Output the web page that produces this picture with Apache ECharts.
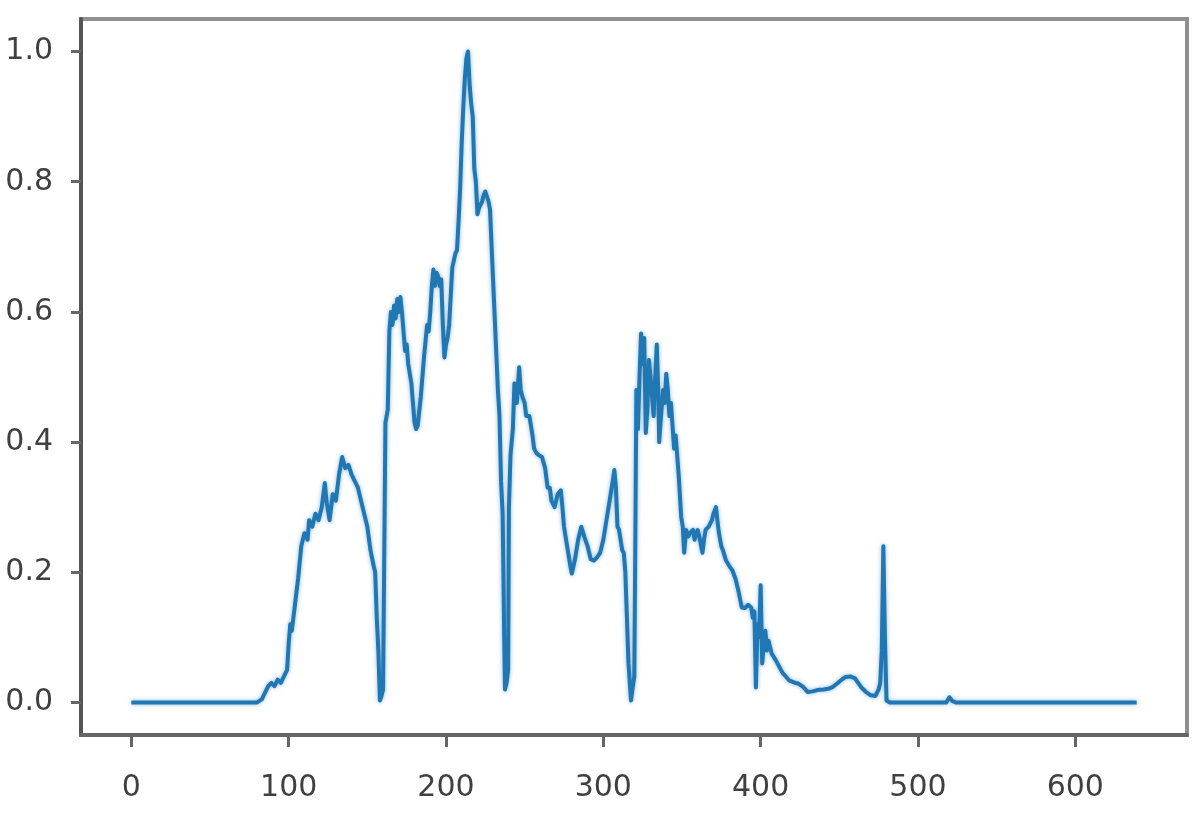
<!DOCTYPE html>
<html>
<head>
<meta charset="utf-8">
<script src="https://cdn.jsdelivr.net/npm/echarts@6/dist/echarts.min.js"></script>
<style>
html,body{margin:0;padding:0;background:#fff;}
#chart{width:1196px;height:822px;}
</style>
</head>
<body>
<div id="chart"></div>
<script>
// Tick labels
var xTicks = [0, 100, 200, 300, 400, 500, 600];
var yTicks = [0.0, 0.2, 0.4, 0.6, 0.8, 1.0];

// Series: sample index (x) and normalized value (y)
var xs = [
  0, 80, 83, 85, 87, 89, 91, 93, 95, 97, 99, 100, 101, 102, 104, 106, 108, 110, 112, 113,
  115, 117, 119, 121, 123, 124, 126, 128, 130, 132, 134, 136, 138, 140, 142, 144, 146, 148, 150, 152,
  154, 155, 156, 157, 158, 159, 160, 161, 161.5, 163, 164, 165, 166, 167, 168, 169, 170, 171, 172, 173,
  174, 175, 176, 178, 179, 180, 181, 182, 184, 186, 188, 189, 190, 191, 192, 193, 194, 195, 196, 197,
  198, 199, 200, 201, 202, 204, 206, 207, 208, 209, 210, 211, 212, 213, 214, 215, 216, 217, 218, 219,
  220, 221, 222, 223, 224, 225, 226, 227, 228, 229, 231, 233, 234, 235, 236, 237, 237.5, 238.5, 239.5, 240,
  241, 242.5, 243.5, 245, 246.5, 247.5, 248.5, 250, 251, 253, 255, 256, 257.5, 259, 261, 263, 264.6, 266, 267, 269,
  271, 273, 274, 275, 277, 279, 280, 282, 284, 286, 288, 290, 292, 294, 296, 298, 300, 302, 304, 306,
  307, 308, 309, 310, 312, 313, 314, 315, 316, 317.6, 318.5, 319.7, 320.5, 321, 322, 323, 324, 325, 326, 327,
  328, 329, 330, 331, 332, 333, 334, 335, 335.5, 337, 338, 339, 340, 341, 342, 343, 345, 346, 348, 349.5,
  350.5, 351.4, 352.6, 354, 355, 357, 358, 359, 360, 361, 363, 364, 365, 367, 369, 370, 371.6, 372.5, 373.5, 375,
  376, 378, 380, 382, 384, 386, 388, 390, 392, 394, 395, 396, 397, 398, 399, 400, 401, 402, 403, 404,
  405, 407, 409.6, 412, 414, 416, 418, 420, 422, 424, 427, 430, 433, 436, 440, 443, 446, 449, 452, 454,
  457, 460, 462, 464, 467, 470, 473, 475, 476, 477, 478, 479, 480, 482, 518, 520, 522, 524, 639
];
var ys = [
  0, 0, 0.005, 0.015, 0.025, 0.03, 0.025, 0.035, 0.03, 0.04, 0.05, 0.09, 0.12, 0.11, 0.15, 0.19, 0.24, 0.26, 0.25, 0.28,
  0.27, 0.29, 0.28, 0.30, 0.337, 0.31, 0.28, 0.32, 0.31, 0.35, 0.377, 0.36, 0.365, 0.35, 0.34, 0.33, 0.31, 0.29, 0.27, 0.234,
  0.21, 0.20, 0.13, 0.08, 0.003, 0.01, 0.02, 0.023, 0.43, 0.45, 0.57, 0.60, 0.58, 0.61, 0.59, 0.62, 0.60, 0.623, 0.60, 0.57,
  0.54, 0.55, 0.52, 0.49, 0.46, 0.43, 0.42, 0.425, 0.47, 0.53, 0.58, 0.57, 0.60, 0.64, 0.665, 0.64, 0.66, 0.655, 0.64, 0.65,
  0.58, 0.53, 0.55, 0.56, 0.58, 0.668, 0.69, 0.695, 0.74, 0.79, 0.86, 0.915, 0.96, 0.99, 1.0, 0.95, 0.92, 0.90, 0.82, 0.80,
  0.75, 0.76, 0.765, 0.77, 0.78, 0.785, 0.787, 0.77, 0.757, 0.70, 0.59, 0.48, 0.44, 0.34, 0.29, 0.10, 0.02, 0.03, 0.05, 0.30,
  0.38, 0.42, 0.49, 0.46, 0.515, 0.48, 0.47, 0.46, 0.44, 0.44, 0.41, 0.39, 0.383, 0.38, 0.377, 0.36, 0.33, 0.33, 0.31, 0.30,
  0.32, 0.326, 0.30, 0.27, 0.24, 0.21, 0.198, 0.22, 0.25, 0.27, 0.254, 0.24, 0.22, 0.218, 0.223, 0.23, 0.25, 0.28, 0.31, 0.34,
  0.357, 0.33, 0.27, 0.265, 0.234, 0.23, 0.20, 0.13, 0.06, 0.003, 0.02, 0.04, 0.30, 0.48, 0.42, 0.50, 0.567, 0.52, 0.56, 0.414,
  0.45, 0.526, 0.50, 0.47, 0.44, 0.50, 0.55, 0.47, 0.40, 0.45, 0.48, 0.46, 0.505, 0.48, 0.44, 0.46, 0.39, 0.41, 0.346, 0.285,
  0.27, 0.23, 0.265, 0.255, 0.26, 0.265, 0.25, 0.26, 0.265, 0.255, 0.23, 0.25, 0.265, 0.27, 0.28, 0.29, 0.30, 0.28, 0.26, 0.24,
  0.234, 0.218, 0.21, 0.203, 0.19, 0.17, 0.146, 0.145, 0.15, 0.146, 0.13, 0.14, 0.023, 0.12, 0.10, 0.18, 0.06, 0.09, 0.11, 0.08,
  0.095, 0.075, 0.065, 0.054, 0.045, 0.04, 0.034, 0.032, 0.03, 0.029, 0.024, 0.016, 0.017, 0.019, 0.02, 0.021, 0.024, 0.03, 0.036, 0.039,
  0.04, 0.037, 0.03, 0.023, 0.016, 0.011, 0.01, 0.02, 0.03, 0.08, 0.24, 0.10, 0.003, 0, 0, 0.008, 0.002, 0, 0
];

var points = xs.map(function (x, i) { return [x, ys[i]]; });

var chart = echarts.init(document.getElementById('chart'), null, { renderer: 'canvas' });
var labelStyle = { fontFamily: 'DejaVu Sans', fontSize: 30, color: '#404040' };
chart.setOption({
  animation: false,
  backgroundColor: '#ffffff',
  grid: {
    left: 81, right: 9, top: 19, bottom: 87,
    show: true, borderColor: '#909090', borderWidth: 4, backgroundColor: 'transparent'
  },
  xAxis: {
    type: 'value',
    min: -32, max: 671,
    splitLine: { show: false },
    axisLine: { show: true, onZero: false, lineStyle: { color: '#666666', width: 4 } },
    axisTick: { show: true, length: 12, customValues: xTicks, lineStyle: { color: '#666666', width: 3 } },
    axisLabel: Object.assign({ margin: 38, customValues: xTicks, formatter: function (v) { return String(v); } }, labelStyle)
  },
  yAxis: {
    type: 'value',
    min: -0.05, max: 1.05,
    splitLine: { show: false },
    axisLine: { show: true, onZero: false, lineStyle: { color: '#555555', width: 4 } },
    axisTick: { show: true, length: 10, customValues: yTicks, lineStyle: { color: '#666666', width: 3 } },
    axisLabel: Object.assign({ margin: 28, customValues: yTicks, formatter: function (v) { return v.toFixed(1); } }, labelStyle)
  },
  series: [{
    type: 'line',
    data: points,
    symbol: 'none',
    showSymbol: false,
    sampling: null,
    lineStyle: { color: '#2077b4', width: 4, shadowColor: 'rgba(31,119,180,0.5)', shadowBlur: 4, join: 'round' }
  }]
});
</script>
</body>
</html>
